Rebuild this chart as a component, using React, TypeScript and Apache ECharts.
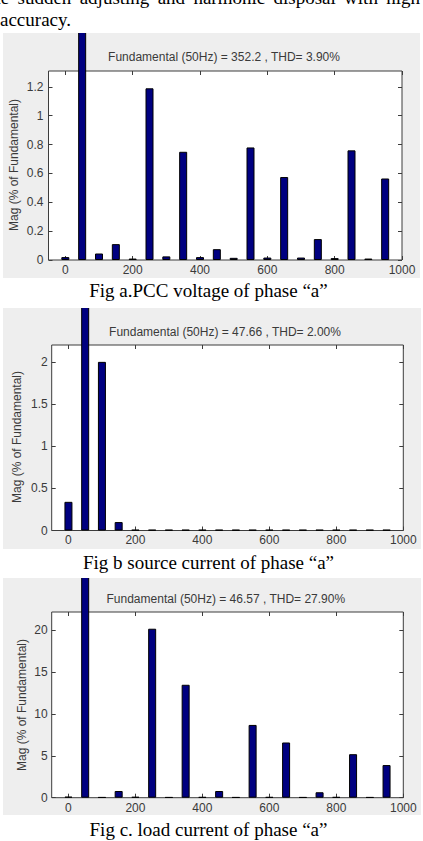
import React, { useEffect, useRef } from "react";
import * as echarts from "echarts";

// Harmonic frequencies (Hz) of the FFT bars
const harmonicFreqs = [0, 50, 100, 150, 200, 250, 300, 350, 400, 450, 500, 550, 600, 650, 700, 750, 800, 850, 900, 950];

// Magnitudes in % of fundamental
const pccVoltageMag = [0.02, 100, 0.045, 0.11, 0.01, 1.19, 0.025, 0.75, 0.02, 0.075, 0.015, 0.78, 0.017, 0.575, 0.017, 0.145, 0.013, 0.76, 0.01, 0.565];
const sourceCurrentMag = [0.34, 100, 2.0, 0.1, 0.008, 0.008, 0.008, 0.008, 0.008, 0.008, 0.008, 0.008, 0.008, 0.008, 0.008, 0.008, 0.008, 0.008, 0.008, 0.008];
const loadCurrentMag = [0.12, 100, 0.06, 0.8, 0.1, 20.2, 0.06, 13.5, 0.08, 0.8, 0.06, 8.7, 0.08, 6.6, 0.06, 0.65, 0.08, 5.2, 0.06, 3.9];

// Fundamental values and THD per figure
const fundamentalValues = ["352.2", "47.66", "46.57"];
const thdValues = ["3.90", "2.00", "27.90"];

// Tick labels
const freqTicks = [0, 200, 400, 600, 800, 1000];
const pccTicks = [0, 0.2, 0.4, 0.6, 0.8, 1, 1.2];
const sourceTicks = [0, 0.5, 1, 1.5, 2];
const loadTicks = [0, 5, 10, 15, 20];

const captions = [
  "Fig a.PCC voltage of phase \u201ca\u201d",
  "Fig b source current of phase \u201ca\u201d",
  "Fig c. load current of phase \u201ca\u201d",
];

const SANS = "'Liberation Sans', Arial, Helvetica, sans-serif";
const SERIF = "'Liberation Serif', 'Times New Roman', serif";
const TEXT = "#3a3a3a";
const FRAME = "#3c3c3c";

type PanelCfg = {
  values: number[];
  yTicks: number[];
  yMax: number;
  title: string;
  grid: { left: number; top: number; width: number; height: number };
  titlePos: [number, number];
  yNamePos: [number, number];
  xLabelMargin: number;
  yLabelMargin: number;
};

function buildOption(cfg: PanelCfg) {
  const tick = (values: number[]) => ({
    inside: true,
    length: 4,
    customValues: values,
    lineStyle: { color: FRAME, width: 1 },
  });
  const label = { color: TEXT, fontFamily: SANS, fontSize: 12, formatter: (v: number) => String(v) };
  const hiddenLine = { show: false, onZero: false };
  return {
    animation: false,
    grid: {
      ...cfg.grid,
      show: true,
      backgroundColor: "#ffffff",
      borderColor: FRAME,
      borderWidth: 1,
      outerBoundsMode: "none",
      containLabel: false,
    },
    xAxis: [
      {
        type: "value",
        position: "bottom",
        min: -50,
        max: 1000,
        axisLine: hiddenLine,
        splitLine: { show: false },
        axisTick: tick(freqTicks),
        axisLabel: { ...label, margin: cfg.xLabelMargin, customValues: freqTicks },
      },
      {
        type: "value",
        position: "top",
        min: -50,
        max: 1000,
        axisLine: hiddenLine,
        splitLine: { show: false },
        axisTick: tick(freqTicks),
        axisLabel: { show: false },
      },
    ],
    yAxis: [
      {
        type: "value",
        position: "left",
        min: 0,
        max: cfg.yMax,
        axisLine: hiddenLine,
        splitLine: { show: false },
        axisTick: tick(cfg.yTicks),
        axisLabel: { ...label, margin: cfg.yLabelMargin, customValues: cfg.yTicks },
      },
      {
        type: "value",
        position: "right",
        min: 0,
        max: cfg.yMax,
        axisLine: hiddenLine,
        splitLine: { show: false },
        axisTick: tick(cfg.yTicks),
        axisLabel: { show: false },
      },
    ],
    series: [
      {
        type: "bar",
        xAxisIndex: 0,
        yAxisIndex: 0,
        clip: false,
        barWidth: 8,
        data: harmonicFreqs.map((f, i) => [f, cfg.values[i]]),
        itemStyle: { color: "#000080", borderColor: "#000000", borderWidth: 1 },
      },
    ],
    graphic: [
      {
        type: "text",
        x: cfg.titlePos[0],
        y: cfg.titlePos[1],
        z: 10,
        style: {
          text: cfg.title,
          fill: TEXT,
          font: `12px ${SANS}`,
          align: "center",
          verticalAlign: "middle",
        },
      },
      {
        type: "text",
        x: cfg.yNamePos[0],
        y: cfg.yNamePos[1],
        rotation: Math.PI / 2,
        style: {
          text: "Mag (% of Fundamental)",
          fill: TEXT,
          font: `12px ${SANS}`,
          align: "center",
          verticalAlign: "middle",
        },
      },
    ],
  };
}

function SpectrumPanel({ cfg, box }: { cfg: PanelCfg; box: { left: number; top: number; width: number; height: number } }) {
  const ref = useRef<HTMLDivElement>(null);
  useEffect(() => {
    const chart = echarts.init(ref.current as HTMLDivElement, null, { renderer: "svg" });
    chart.setOption(buildOption(cfg) as any);
    return () => chart.dispose();
  }, []);
  return (
    <div
      ref={ref}
      style={{
        position: "absolute",
        overflow: "hidden",
        background: "#eeeeee",
        left: box.left,
        top: box.top,
        width: box.width,
        height: box.height,
      }}
    />
  );
}

const titleText = (i: number) => `Fundamental (50Hz) = ${fundamentalValues[i]} , THD= ${thdValues[i]}%`;

const panels: { cfg: PanelCfg; box: { left: number; top: number; width: number; height: number }; captionTop: number }[] = [
  {
    cfg: {
      values: pccVoltageMag,
      yTicks: pccTicks,
      yMax: 1.31,
      title: titleText(0),
      grid: { left: 45.5, top: 38, width: 353.5, height: 189 },
      titlePos: [221, 23.7],
      yNamePos: [11, 132],
      xLabelMargin: 4,
      yLabelMargin: 5,
    },
    box: { left: 3, top: 33, width: 417, height: 245 },
    captionTop: 280,
  },
  {
    cfg: {
      values: sourceCurrentMag,
      yTicks: sourceTicks,
      yMax: 2.2,
      title: titleText(1),
      grid: { left: 48.7, top: 37, width: 351.6, height: 185.5 },
      titlePos: [222, 23.7],
      yNamePos: [13.7, 129],
      xLabelMargin: 3.5,
      yLabelMargin: 4,
    },
    box: { left: 3, top: 308, width: 418, height: 241 },
    captionTop: 552,
  },
  {
    cfg: {
      values: loadCurrentMag,
      yTicks: loadTicks,
      yMax: 22.2,
      title: titleText(2),
      grid: { left: 48.7, top: 34, width: 351.6, height: 185.7 },
      titlePos: [222.8, 21],
      yNamePos: [18.7, 127],
      xLabelMargin: 4,
      yLabelMargin: 4,
    },
    box: { left: 3, top: 578, width: 418, height: 237 },
    captionTop: 819,
  },
];

export default function App() {
  return (
    <div
      style={{
        position: "absolute",
        left: 0,
        top: 0,
        width: 423,
        height: 841,
        overflow: "hidden",
        background: "#ffffff",
        fontFamily: SERIF,
        color: "#000",
      }}
    >
      <div
        style={{
          position: "absolute",
          left: -14,
          top: -13.4,
          width: 434,
          fontSize: 19,
          lineHeight: "22px",
          whiteSpace: "nowrap",
          textAlign: "justify",
          textAlignLast: "justify",
        }}
      >
        the sudden adjusting and harmonic disposal with high
      </div>
      <div style={{ position: "absolute", left: 0, top: 8.6, fontSize: 19, lineHeight: "22px" }}>accuracy.</div>
      {panels.map((p, i) => (
        <React.Fragment key={i}>
          <SpectrumPanel cfg={p.cfg} box={p.box} />
          <div
            style={{
              position: "absolute",
              left: 0,
              width: 417,
              top: p.captionTop,
              fontSize: 19,
              lineHeight: "22px",
              textAlign: "center",
              whiteSpace: "nowrap",
            }}
          >
            {captions[i]}
          </div>
        </React.Fragment>
      ))}
    </div>
  );
}
